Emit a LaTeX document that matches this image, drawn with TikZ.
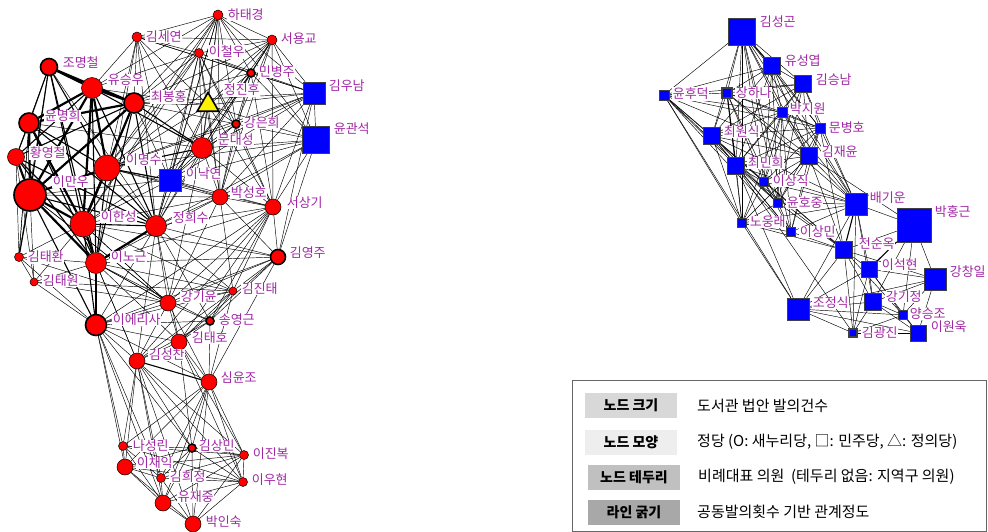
\documentclass[tikz,border=0pt]{standalone}
\usepackage{fontspec}
\setmainfont{Noto Sans CJK KR}
\usetikzlibrary{shapes.geometric}
\pgfdeclarelayer{background}
\pgfsetlayers{background,main}
\definecolor{lblpurple}{RGB}{160,40,165}
\definecolor{legA}{RGB}{216,216,216}
\definecolor{legB}{RGB}{238,238,238}
\definecolor{legC}{RGB}{192,192,192}
\definecolor{legD}{RGB}{168,168,168}
\tikzset{
  rn/.style={circle, fill=red, draw=black, line width=0.5pt, inner sep=0pt, minimum size=#1},
  rb/.style={rn=#1, line width=1.6pt},
  bs/.style={rectangle, fill=blue, draw=black!75, line width=0.5pt, inner sep=0pt, minimum size=#1},
  bb/.style={bs=#1, line width=1.6pt},
  lbl/.style={anchor=west, text=lblpurple, fill=white, inner sep=0.6pt,
              font=\fontsize{13}{13}\selectfont},
  thin/.style={draw=black, line width=0.45pt},
  mid/.style={draw=black, line width=1.1pt},
  heavy/.style={draw=black, line width=2.2pt},
  legkey/.style={minimum width=92pt, minimum height=25pt, inner sep=0pt,
                 font=\fontsize{14}{14}\selectfont\bfseries},
  legtxt/.style={anchor=west, inner sep=0pt, font=\fontsize{15}{15}\selectfont}
}
\begin{document}
\begin{tikzpicture}[x=1pt,y=-1pt]
\path[use as bounding box] (0,0) rectangle (988,531);

% ---------- left network: Saenuri (circles), Minju (squares), Justice (triangle)
\node[rn=10] (hatk) at (218,15) {};
\node[rn=10] (ksy) at (137,37) {};
\node[rn=10] (syg) at (272,40) {};
\node[rn=9] (icw) at (199,53) {};
\node[rb=8] (mbj) at (251,73) {};
\node[rb=17] (jmc) at (49,67) {};
\node[rn=21] (ysw) at (92,88) {};
\node[rb=20] (cbh) at (134,103) {};
\node[regular polygon, regular polygon sides=3, minimum size=25pt, inner sep=0pt,
      fill=yellow, draw=black, line width=1.6pt] (jjh) at (208,105) {};
\node[bs=22] (kwn) at (314,93) {};
\node[rb=8] (keh) at (236,124) {};
\node[bs=27] (ygs) at (316,140) {};
\node[rb=20] (ymh) at (29,123) {};
\node[rn=21] (mds) at (202,148) {};
\node[rn=17] (hyc) at (16,157) {};
\node[rn=26] (lms) at (107,168) {};
\node[bs=22] (lny) at (170,180) {};
\node[rb=32] (lmw) at (30,195) {};
\node[rn=16] (psh) at (220,197) {};
\node[rn=16] (ssg) at (273,207) {};
\node[rn=26] (lhs) at (83,224) {};
\node[rn=21] (jhs) at (156,226) {};
\node[rb=15] (kyj) at (278,257) {};
\node[rn=9] (kth) at (19,257) {};
\node[rn=21] (lng) at (96,263) {};
\node[rn=8] (ktw) at (34,282) {};
\node[rn=8] (kjt) at (233,291) {};
\node[rn=16] (kgy) at (168,303) {};
\node[rb=8] (syk) at (210,321) {};
\node[rb=21] (ler) at (96,325) {};
\node[rn=16] (kth2) at (179,342) {};
\node[rn=16] (ksc) at (137,361) {};
\node[rn=16] (syj) at (209,382) {};
\node[rn=9] (nsr) at (123,446) {};
\node[rb=8] (ksm) at (192,448) {};
\node[rn=9] (ljb) at (244,455) {};
\node[rn=16] (lci) at (125,467) {};
\node[rn=9] (khj) at (161,478) {};
\node[rn=9] (lwh) at (243,482) {};
\node[rn=16] (yjj) at (163,503) {};
\node[rn=16] (pis) at (193,524) {};

% ---------- right network: Minju members
\node[bs=27] (ksg) at (742,32) {};
\node[bs=17] (yse) at (772,66) {};
\node[bs=17] (ksn) at (803,84) {};
\node[bs=10] (yhd) at (664,95) {};
\node[bb=10] (jhn) at (727,93) {};
\node[bs=10] (pjw) at (782,112) {};
\node[bs=10] (mbh) at (820,128) {};
\node[bs=17] (cws) at (712,136) {};
\node[bs=17] (kjy) at (809,156) {};
\node[bb=17] (cmh) at (736,166) {};
\node[bs=9] (lsj) at (764,182) {};
\node[bs=9] (yhj) at (778,203) {};
\node[bs=9] (nwr) at (742,223) {};
\node[bs=9] (lsm) at (791,232) {};
\node[bs=22] (bgw) at (856,204) {};
\node[bs=34] (phg) at (914,225) {};
\node[bb=17] (jso) at (844,250) {};
\node[bs=16] (lsh) at (869,269) {};
\node[bs=22] (kci) at (935,279) {};
\node[bs=22] (jjs) at (798,309) {};
\node[bs=17] (kgj) at (873,302) {};
\node[bs=9] (ysj) at (903,315) {};
\node[bb=8] (kkj) at (853,333) {};
\node[bs=16] (lwu) at (918,333) {};

% ---------- co-sponsorship ties
\begin{pgfonlayer}{background}
% strongest ties
\foreach \a/\b in {jmc/ysw,ysw/cbh,jmc/cbh,ymh/ysw,ymh/cbh,ymh/lmw,lmw/ysw,lmw/cbh,
  lmw/lhs,lmw/lng,lmw/lms,lhs/lng,lhs/cbh,lhs/ysw,lms/lhs,lng/jhs,ysw/lms,hyc/lmw,ymh/lhs}
  \draw[heavy] (\a) -- (\b);
% medium ties
\foreach \a/\b in {jmc/ymh,jmc/lmw,jmc/lhs,jmc/lng,ymh/lng,ymh/lms,ymh/hyc,hyc/lhs,
  hyc/lng,hyc/ysw,hyc/cbh,cbh/lms,cbh/lng,cbh/jhs,ysw/lng,ysw/jhs,lms/lng,lms/jhs,
  lhs/jhs,lmw/jhs,lmw/ler,lhs/ler,lng/ler,cbh/mds,ysw/mds,lms/mds,jmc/lms,ymh/jhs,
  hyc/jhs,ksc/syj,lny/lms,kth/lmw,cmh/jhn,ksg/yse,bgw/jso,phg/lsh}
  \draw[mid] (\a) -- (\b);
% single ties
\foreach \a/\b in {
  hatk/ksy,hatk/syg,hatk/icw,hatk/mbj,hatk/jjh,hatk/keh,hatk/mds,hatk/cbh,hatk/ysw,
  hatk/lms,hatk/kwn,hatk/lny,hatk/psh,hatk/ygs,hatk/jhs,hatk/lhs,
  ksy/syg,ksy/icw,ksy/cbh,ksy/ysw,ksy/jjh,ksy/mds,ksy/lms,ksy/lny,ksy/kwn,ksy/mbj,ksy/jhs,ksy/lng,
  syg/icw,syg/mbj,syg/jjh,syg/keh,syg/kwn,syg/ygs,syg/mds,syg/ssg,syg/psh,syg/lny,syg/cbh,syg/lms,syg/jhs,
  icw/mbj,icw/jjh,icw/keh,icw/kwn,icw/mds,icw/lny,icw/cbh,icw/ysw,icw/lms,icw/psh,icw/lhs,icw/jhs,icw/ssg,
  mbj/jjh,mbj/keh,mbj/kwn,mbj/ygs,mbj/mds,mbj/psh,mbj/ssg,mbj/lny,mbj/cbh,
  jjh/keh,jjh/kwn,jjh/mds,jjh/lny,jjh/cbh,jjh/ysw,jjh/lms,jjh/psh,jjh/jhs,jjh/ygs,jjh/ssg,
  kwn/ygs,kwn/keh,kwn/mds,kwn/psh,kwn/ssg,kwn/lny,kwn/cbh,kwn/lms,kwn/kyj,
  ygs/keh,ygs/mds,ygs/psh,ygs/ssg,ygs/lny,ygs/kyj,ygs/lms,ygs/jhs,
  keh/mds,keh/psh,keh/ssg,keh/lny,keh/cbh,keh/lms,
  mds/lny,mds/psh,mds/ssg,mds/jhs,mds/lhs,mds/kgy,
  lny/psh,lny/jhs,lny/lhs,lny/lmw,lny/cbh,lny/ssg,
  psh/ssg,psh/jhs,psh/lms,psh/lhs,psh/lmw,psh/kyj,psh/kgy,psh/kjt,psh/lng,
  ssg/kyj,ssg/jhs,ssg/kjt,ssg/kgy,ssg/syk,ssg/kth2,ssg/lng,ssg/ler,ssg/lms,ssg/ksc,
  kyj/jhs,kyj/lng,kyj/kgy,kyj/kjt,kyj/syk,kyj/kth2,kyj/ler,kyj/lhs,kyj/syj,
  kth/lhs,kth/lng,kth/ktw,kth/ler,kth/ymh,kth/hyc,kth/kgy,
  ktw/lmw,ktw/lhs,ktw/lng,ktw/ler,ktw/kgy,ktw/kjt,ktw/hyc,
  kjt/lng,kjt/kgy,kjt/syk,kjt/kth2,kjt/ler,kjt/jhs,kjt/lhs,kjt/ksc,kjt/syj,
  kgy/syk,kgy/kth2,kgy/ler,kgy/jhs,kgy/lng,kgy/lhs,kgy/ksc,kgy/syj,kgy/lmw,
  syk/kth2,syk/ler,syk/lng,syk/jhs,syk/ksc,syk/syj,
  ler/kth2,ler/ksc,ler/syj,ler/jhs,ler/nsr,ler/lci,ler/ksm,ler/yjj,ler/khj,
  kth2/ksc,kth2/syj,kth2/jhs,kth2/lng,kth2/ksm,kth2/lwh,kth2/ljb,
  ksc/nsr,ksc/lci,ksc/ksm,ksc/khj,ksc/yjj,ksc/pis,ksc/ljb,ksc/lwh,ksc/lng,ksc/jhs,
  syj/nsr,syj/lci,syj/ksm,syj/ljb,syj/lwh,syj/khj,syj/yjj,syj/pis,
  nsr/lci,nsr/ksm,nsr/khj,nsr/yjj,nsr/ljb,nsr/lwh,
  ksm/ljb,ksm/lwh,ksm/lci,ksm/khj,ksm/yjj,ksm/pis,
  ljb/lwh,ljb/lci,ljb/khj,ljb/yjj,ljb/pis,
  lci/khj,lci/yjj,lci/pis,lci/lwh,khj/yjj,khj/pis,khj/lwh,lwh/yjj,lwh/pis,yjj/pis,
  jmc/hyc,jmc/jhs,jmc/kth,ymh/kth,ymh/mds,lms/lny,lhs/kgy,lng/kgy,lng/ksc,lmw/kgy,
  % right network
  ksg/ksn,ksg/yhd,ksg/jhn,ksg/pjw,ksg/mbh,ksg/cws,ksg/kjy,ksg/cmh,ksg/lsj,ksg/yhj,ksg/bgw,ksg/nwr,ksg/lsm,
  yse/ksn,yse/jhn,yse/pjw,yse/mbh,yse/cws,yse/kjy,yse/cmh,yse/lsj,yse/yhj,yse/yhd,yse/bgw,
  ksn/jhn,ksn/pjw,ksn/mbh,ksn/kjy,ksn/cmh,ksn/lsj,ksn/yhj,ksn/bgw,ksn/cws,ksn/yhd,
  yhd/jhn,yhd/pjw,yhd/mbh,yhd/cws,yhd/cmh,yhd/lsj,yhd/yhj,yhd/nwr,yhd/lsm,yhd/kjy,yhd/jjs,
  jhn/pjw,jhn/mbh,jhn/cws,jhn/kjy,jhn/lsj,jhn/yhj,jhn/nwr,jhn/bgw,
  pjw/mbh,pjw/cws,pjw/kjy,pjw/cmh,pjw/lsj,pjw/yhj,pjw/bgw,pjw/lsm,pjw/nwr,
  mbh/cws,mbh/kjy,mbh/cmh,mbh/lsj,mbh/yhj,mbh/bgw,mbh/lsm,mbh/jso,
  cws/kjy,cws/cmh,cws/lsj,cws/yhj,cws/nwr,cws/lsm,cws/bgw,cws/jso,
  kjy/cmh,kjy/lsj,kjy/yhj,kjy/bgw,kjy/lsm,kjy/jso,kjy/nwr,kjy/phg,
  cmh/lsj,cmh/yhj,cmh/nwr,cmh/lsm,cmh/bgw,cmh/jso,cmh/jjs,cmh/kkj,
  lsj/yhj,lsj/nwr,lsj/lsm,lsj/bgw,lsj/jso,yhj/nwr,yhj/lsm,yhj/bgw,yhj/jso,
  nwr/lsm,nwr/jso,nwr/bgw,nwr/jjs,lsm/jso,lsm/bgw,
  bgw/lsh,bgw/phg,bgw/kgj,bgw/kkj,bgw/jjs,
  phg/kci,phg/kgj,phg/jso,phg/ysj,
  jso/lsh,jso/kgj,jso/jjs,jso/kkj,jso/ysj,jso/kci,
  lsh/kci,lsh/kgj,lsh/jjs,lsh/ysj,lsh/kkj,lsh/lwu,
  kci/kgj,kci/ysj,kci/lwu,kci/jjs,jjs/kgj,jjs/kkj,jjs/ysj,jjs/lwu,
  kgj/ysj,kgj/kkj,kgj/lwu,ysj/lwu,ysj/kkj,kkj/lwu}
  \draw[thin] (\a) -- (\b);
\end{pgfonlayer}

% ---------- member names
\node[lbl] (t-hatk) at (227,15) {하태경};
\node[lbl] (t-ksy) at (145,37) {김세연};
\node[lbl] (t-syg) at (280,39) {서용교};
\node[lbl] (t-icw) at (208,52) {이철우};
\node[lbl] (t-mbj) at (258,72) {민병주};
\node[lbl] (t-jmc) at (62,63) {조명철};
\node[lbl] (t-ysw) at (107,80) {유승우};
\node[lbl] (t-cbh) at (150,97) {최봉홍};
\node[lbl] (t-jjh) at (223,90) {정진후};
\node[lbl] (t-kwn) at (328,86) {김우남};
\node[lbl] (t-keh) at (243,123) {강은희};
\node[lbl] (t-ygs) at (333,129) {윤관석};
\node[lbl] (t-ymh) at (44,116) {윤명희};
\node[lbl] (t-mds) at (217,140) {문대성};
\node[lbl] (t-hyc) at (29,153) {황영철};
\node[lbl] (t-lms) at (125,160) {이명수};
\node[lbl] (t-lny) at (185,174) {이낙연};
\node[lbl] (t-lmw) at (52,182) {이만우};
\node[lbl] (t-psh) at (230,193) {박성호};
\node[lbl] (t-ssg) at (286,203) {서상기};
\node[lbl] (t-lhs) at (100,217) {이한성};
\node[lbl] (t-jhs) at (172,218) {정희수};
\node[lbl] (t-kyj) at (289,253) {김영주};
\node[lbl] (t-kth) at (27,257) {김태환};
\node[lbl] (t-lng) at (110,257) {이노근};
\node[lbl] (t-ktw) at (42,281) {김태원};
\node[lbl] (t-kjt) at (241,289) {김진태};
\node[lbl] (t-kgy) at (180,297) {강기윤};
\node[lbl] (t-syk) at (218,320) {송영근};
\node[lbl] (t-ler) at (112,320) {이에리사};
\node[lbl] (t-kth2) at (191,338) {김태호};
\node[lbl] (t-ksc) at (148,355) {김성찬};
\node[lbl] (t-syj) at (220,378) {심윤조};
\node[lbl] (t-nsr) at (132,446) {나성린};
\node[lbl] (t-ksm) at (198,446) {김상민};
\node[lbl] (t-ljb) at (252,454) {이진복};
\node[lbl] (t-lci) at (136,463) {이채익};
\node[lbl] (t-khj) at (169,477) {김희정};
\node[lbl] (t-lwh) at (251,480) {이우현};
\node[lbl] (t-yjj) at (177,497) {유재중};
\node[lbl] (t-pis) at (205,522) {박인숙};

\node[lbl] (t-ksg) at (759,22) {김성곤};
\node[lbl] (t-yse) at (784,61) {유성엽};
\node[lbl] (t-ksn) at (815,80) {김승남};
\node[lbl] (t-yhd) at (672,94) {윤후덕};
\node[lbl] (t-jhn) at (735,93) {장하나};
\node[lbl] (t-pjw) at (789,109) {박지원};
\node[lbl] (t-mbh) at (828,128) {문병호};
\node[lbl] (t-cws) at (723,132) {최원식};
\node[lbl] (t-kjy) at (821,152) {김재윤};
\node[lbl] (t-cmh) at (747,163) {최민희};
\node[lbl] (t-lsj) at (772,181) {이상직};
\node[lbl] (t-yhj) at (786,203) {윤호중};
\node[lbl] (t-nwr) at (749,222) {노웅래};
\node[lbl] (t-lsm) at (799,232) {이상민};
\node[lbl] (t-bgw) at (869,198) {배기운};
\node[lbl] (t-phg) at (934,212) {박홍근};
\node[lbl] (t-jso) at (858,244) {전순옥};
\node[lbl] (t-lsh) at (881,265) {이석현};
\node[lbl] (t-kci) at (949,272) {강창일};
\node[lbl] (t-jjs) at (812,303) {조정식};
\node[lbl] (t-kgj) at (885,297) {강기정};
\node[lbl] (t-ysj) at (909,314) {양승조};
\node[lbl] (t-kkj) at (861,333) {김광진};
\node[lbl] (t-lwu) at (930,327) {이원욱};

% ---------- legend
\node[draw=black!60, line width=0.8pt, minimum width=414pt, minimum height=151pt,
      inner sep=0pt, anchor=north west] (legend) at (571.5,379.5) {};
\node[legkey, fill=legA] (k1) at (631,405.5) {노드 크기};
\node[legkey, fill=legB] (k2) at (631,442) {노드 모양};
\node[legkey, fill=legC] (k3) at (634,477.5) {노드 테두리};
\node[legkey, fill=legD] (k4) at (634,512.5) {라인 굵기};
\node[legtxt] (d1) at (697,406) {도서관 법안 발의건수};
\node[legtxt] (d2) at (697,442) {정당 (O: 새누리당, □: 민주당, △: 정의당)};
\node[legtxt] (d3) at (698,477) {비례대표 의원\ \ (테두리 없음: 지역구 의원)};
\node[legtxt] (d4) at (697,512) {공동발의횟수 기반 관계정도};
\end{tikzpicture}
\end{document}
